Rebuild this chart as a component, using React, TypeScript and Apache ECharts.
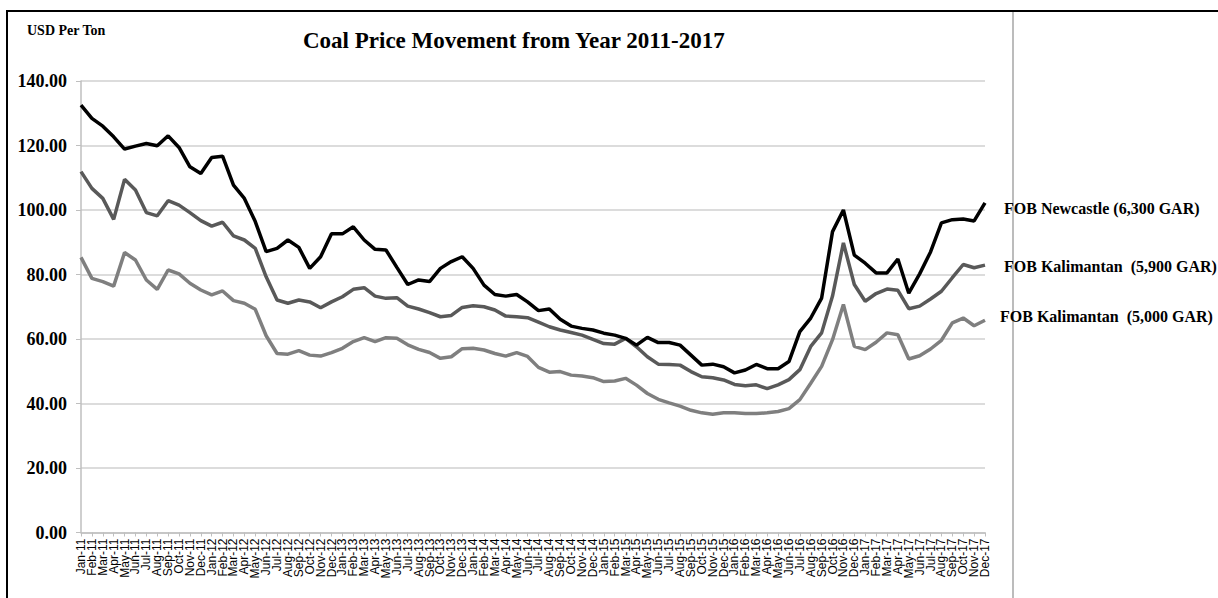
import React, { useEffect, useRef } from "react";
import * as echarts from "echarts";

const years = ["11", "12", "13", "14", "15", "16", "17"];
const months = ["Jan", "Feb", "Mar", "Apr", "May", "Jun", "Jul", "Aug", "Sep", "Oct", "Nov", "Dec"];
const categories: string[] = [];
for (const y of years) for (const m of months) categories.push(`${m}-${y}`);

const newcastle = [
  132.5, 128.4, 126, 122.7, 118.9, 119.8, 120.6, 119.9, 123, 119.4, 113.4, 111.3,
  116.3, 116.7, 107.7, 103.6, 96.4, 87.1, 88.1, 90.7, 88.4, 81.9, 85.5, 92.6,
  92.6, 94.8, 90.7, 87.8, 87.6, 82.2, 76.9, 78.3, 77.8, 81.9, 84, 85.5,
  81.9, 76.7, 73.8, 73.3, 73.8, 71.5, 68.8, 69.3, 66.1, 64, 63.3, 62.8,
  61.8, 61.2, 60.2, 58.1, 60.5, 58.9, 58.9, 58.1, 55, 51.9, 52.2, 51.4,
  49.5, 50.4, 52.1, 50.8, 50.8, 53, 62.3, 66.5, 72.7, 93.3, 100, 86,
  83.5, 80.5, 80.5, 84.8, 74.2, 80.2, 87, 96, 97, 97.2, 96.6, 102.2,
];

const kalimantan5900 = [
  111.9, 106.7, 103.6, 97.1, 109.5, 106.2, 99.2, 98.2, 102.9, 101.5, 99.2, 96.7,
  95, 96.2, 92, 90.7, 88.1, 79.3, 72.1, 71.1, 72.1, 71.5, 69.7, 71.5,
  73.1, 75.4, 75.9, 73.3, 72.6, 72.8, 70.2, 69.3, 68.2, 66.9, 67.3, 69.8,
  70.3, 70, 69, 67.1, 66.9, 66.6, 65.2, 63.8, 62.8, 62, 61.2, 59.9,
  58.6, 58.4, 60.2, 57.6, 54.5, 52.2, 52.1, 51.9, 49.9, 48.3, 48, 47.3,
  45.9, 45.5, 45.8, 44.6, 45.8, 47.4, 50.5, 57.7, 61.9, 73.3, 89.8, 76.9,
  71.7, 74.1, 75.5, 75.1, 69.4, 70.2, 72.4, 74.8, 79, 83.1, 82.1, 82.9,
];

const kalimantan5000 = [
  85.3, 78.8, 77.8, 76.4, 86.8, 84.5, 78.3, 75.4, 81.4, 80.2, 77.3, 75.2,
  73.7, 74.9, 71.9, 71.1, 69.2, 61, 55.5, 55.3, 56.4, 55, 54.7, 55.8,
  57.1, 59.2, 60.4, 59.2, 60.4, 60.2, 58.2, 56.8, 55.8, 54, 54.5, 57,
  57.1, 56.6, 55.5, 54.7, 55.8, 54.6, 51.2, 49.7, 49.9, 48.8, 48.5, 48,
  46.8, 47, 47.8, 45.7, 43.1, 41.3, 40.2, 39.2, 37.9, 37.1, 36.7, 37.1,
  37.1, 36.9, 36.9, 37.1, 37.5, 38.4, 41.2, 46.3, 51.5, 59.8, 70.7, 57.7,
  56.7, 59, 61.9, 61.3, 53.8, 54.8, 56.9, 59.6, 65, 66.5, 64.1, 65.8,
];

const seriesNames = [
  "FOB Newcastle (6,300 GAR)",
  "FOB Kalimantan  (5,900 GAR)",
  "FOB Kalimantan  (5,000 GAR)",
];
const seriesColors = ["#000000", "#595959", "#7f7f7f"];

const SERIF = "'Liberation Serif', 'Times New Roman', serif";

export default function App() {
  const ref = useRef<HTMLDivElement>(null);
  useEffect(() => {
    if (!ref.current) return;
    const chart = echarts.init(ref.current, undefined, { renderer: "svg" });
    const data = [newcastle, kalimantan5900, kalimantan5000];
    const labelOffsets = [
      [19, 6],
      [19, 1],
      [15, -4],
    ];
    chart.setOption({
      animation: false,
      backgroundColor: "#ffffff",
      title: {
        text: "Coal Price Movement from Year 2011-2017",
        left: 298,
        top: 24,
        textStyle: { fontFamily: SERIF, fontWeight: "bold", fontSize: 23, color: "#000" },
      },
      graphic: [
        {
          type: "rect",
          shape: { x: 7, y: 11, width: 1400, height: 800 },
          style: { fill: "none", stroke: "#000", lineWidth: 2 },
          silent: true,
        },
        {
          type: "line",
          shape: { x1: 1013, y1: 12, x2: 1013, y2: 598 },
          style: { stroke: "#a6a6a6", lineWidth: 1.5 },
          silent: true,
        },
        {
          type: "text",
          left: 27,
          top: 23,
          style: {
            text: "USD Per Ton",
            fontFamily: SERIF,
            fontWeight: "bold",
            fontSize: 14,
            fill: "#000",
          },
        },
      ],
      grid: { left: 81, right: 233, top: 81, bottom: 65.5, containLabel: false },
      xAxis: {
        type: "category",
        data: categories,
        boundaryGap: false,
        axisLine: { lineStyle: { color: "#bfbfbf", width: 1.5 } },
        axisTick: { show: true, interval: 0, length: 4, lineStyle: { color: "#bfbfbf" } },
        axisLabel: {
          interval: 0,
          rotate: 90,
          margin: 6,
          fontFamily: "'Liberation Sans', Arial, sans-serif",
          fontSize: 12,
          color: "#000",
        },
      },
      yAxis: {
        type: "value",
        min: 0,
        max: 140,
        interval: 20,
        axisLine: { show: true, lineStyle: { color: "#bfbfbf", width: 1.5 } },
        axisTick: { show: true, length: 5, lineStyle: { color: "#bfbfbf" } },
        splitLine: { lineStyle: { color: "#d0d0d0", width: 1.5 } },
        axisLabel: {
          margin: 14,
          formatter: (v: number) => v.toFixed(2),
          fontFamily: SERIF,
          fontWeight: "bold",
          fontSize: 18,
          color: "#000",
        },
      },
      series: data.map((d, i) => ({
        type: "line",
        name: seriesNames[i],
        data: d,
        symbol: "none",
        lineStyle: { color: seriesColors[i], width: 3.5 },
        itemStyle: { color: seriesColors[i] },
        endLabel: {
          show: true,
          formatter: () => seriesNames[i],
          distance: 0,
          offset: labelOffsets[i],
          fontFamily: SERIF,
          fontWeight: "bold",
          fontSize: 16,
          color: "#000",
        },
        z: 3 - i,
      })),
    });
    return () => chart.dispose();
  }, []);
  return (
    <div
      ref={ref}
      style={{ position: "absolute", left: 0, top: 0, width: 1218, height: 598 }}
    />
  );
}
